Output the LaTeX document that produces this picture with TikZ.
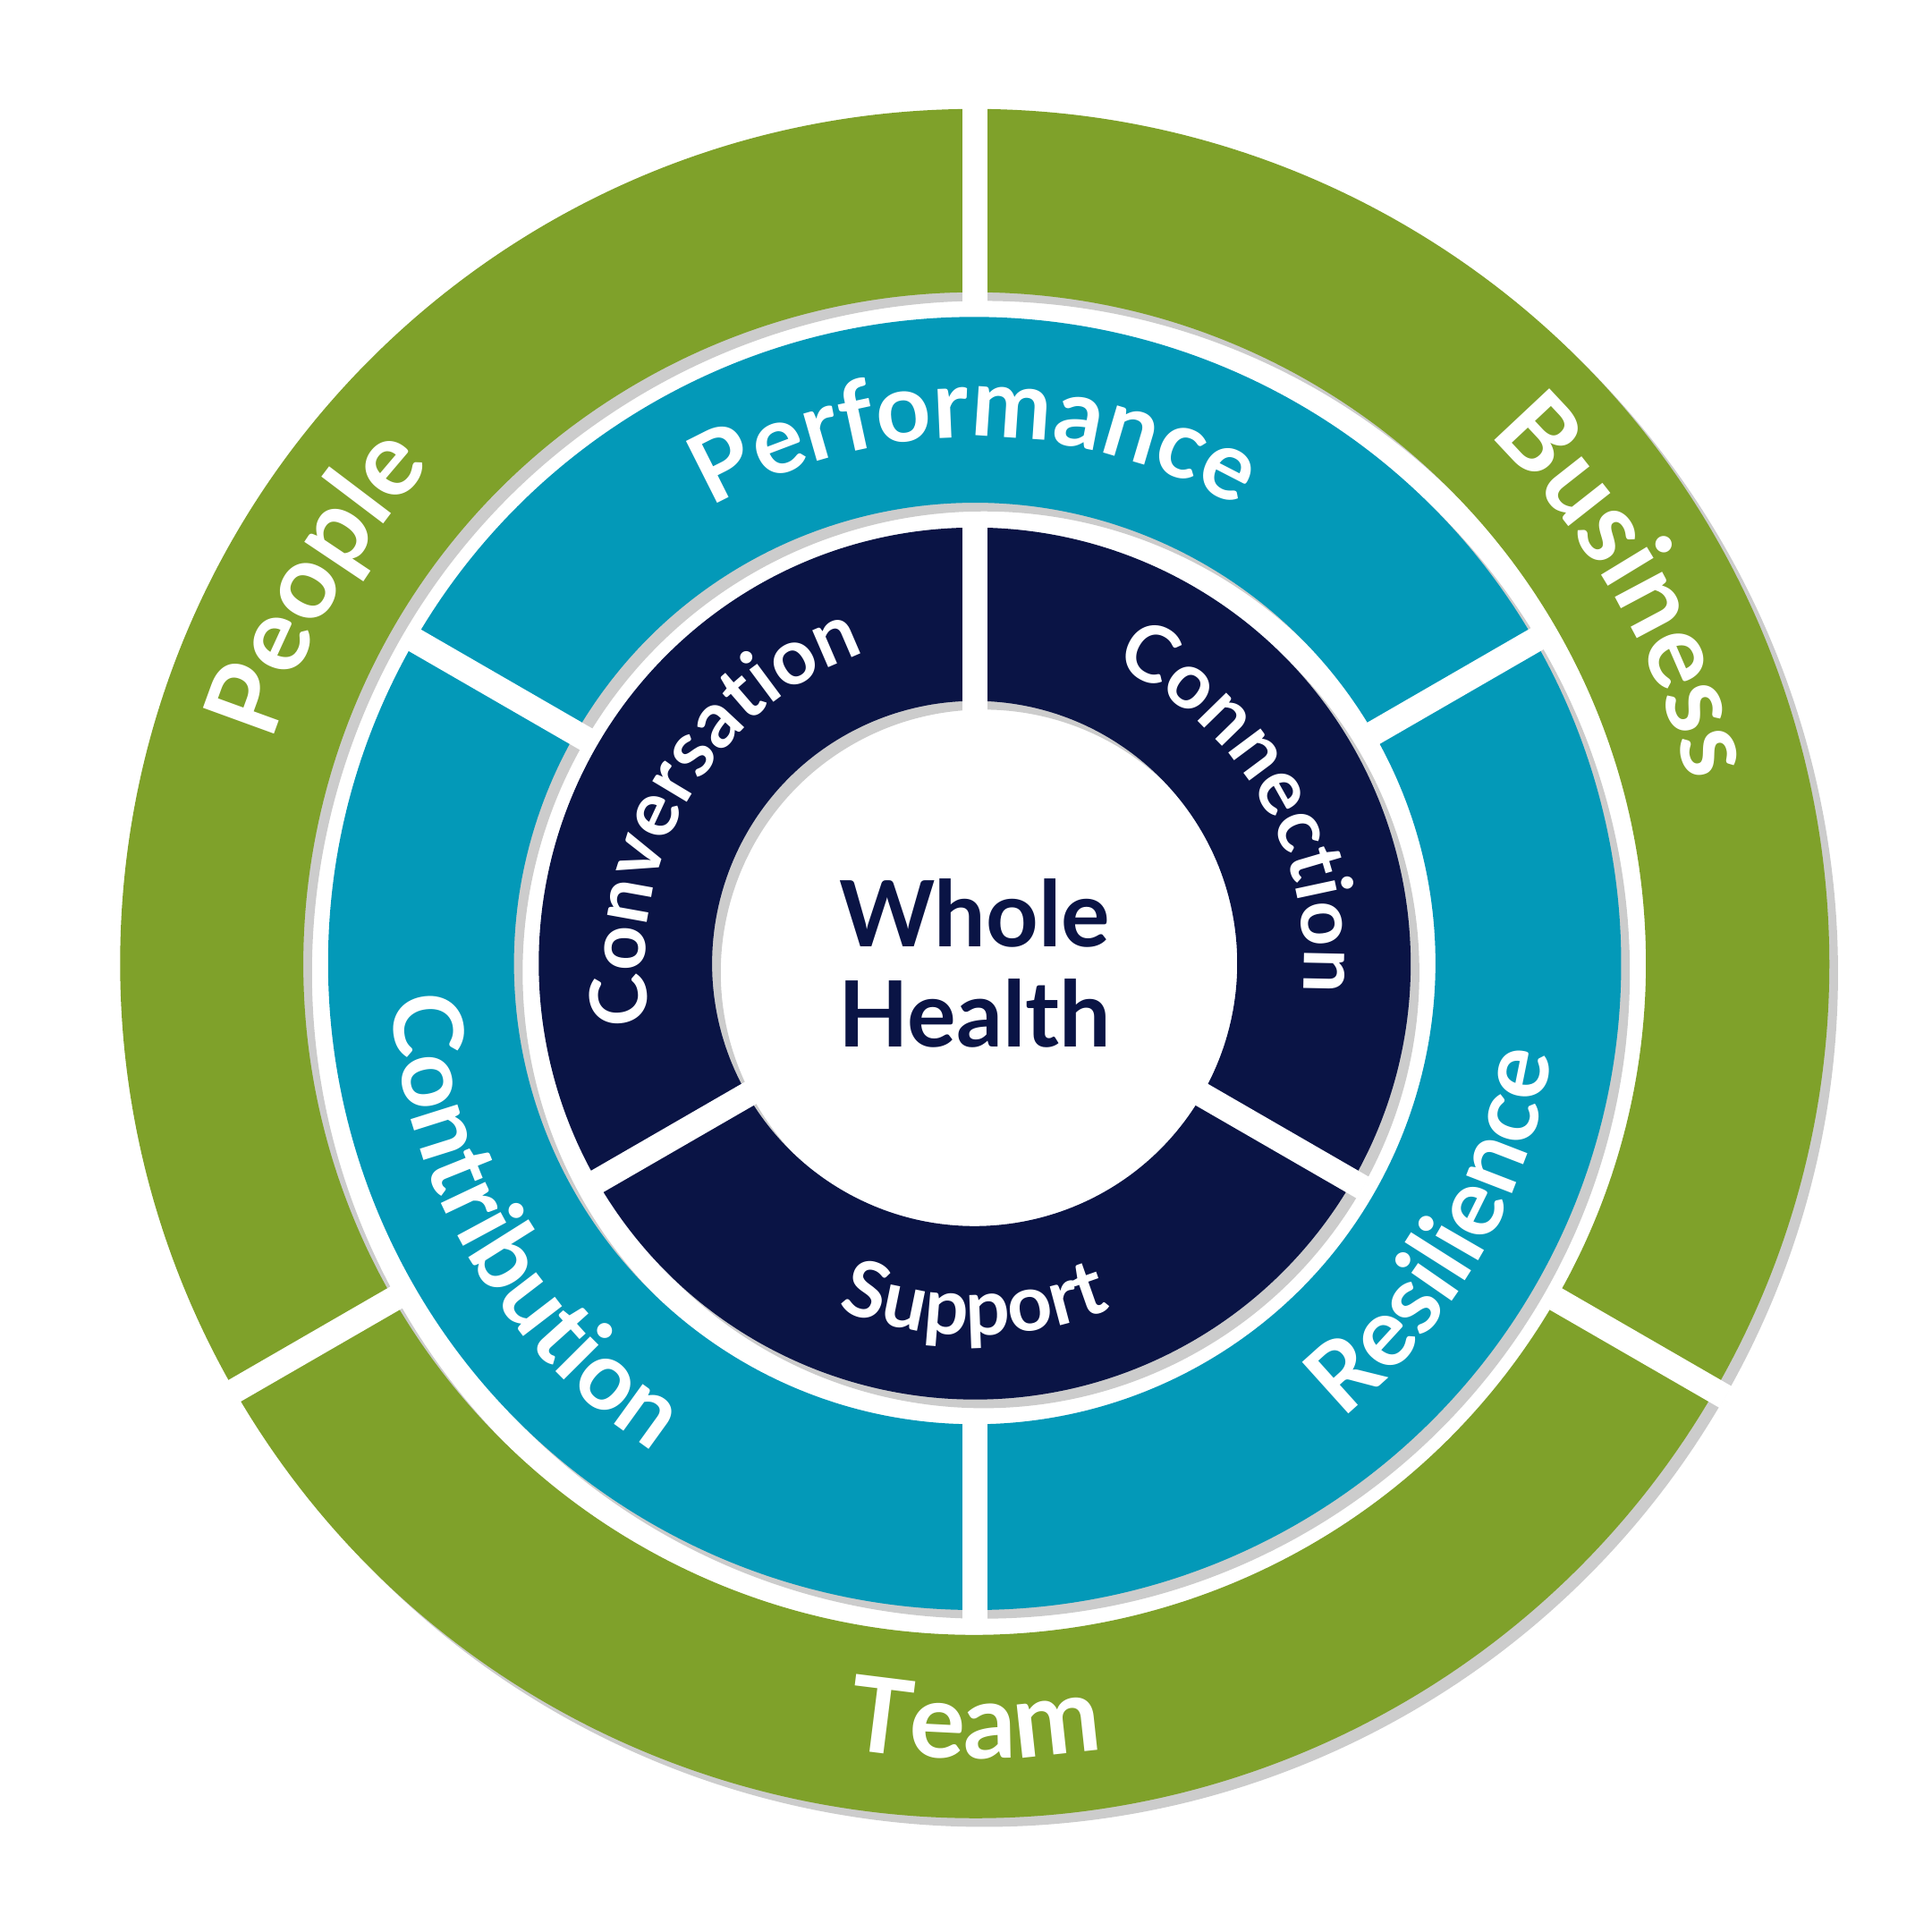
\documentclass[tikz,border=0pt]{standalone}
\usepackage{fontspec}
\setmainfont{Lato}
\usetikzlibrary{decorations.text, shadows}

\definecolor{wgreen}{HTML}{7FA12A}
\definecolor{wblue}{HTML}{0399B8}
\definecolor{wnavy}{HTML}{0A1445}

\tikzset{
  ring/.style={drop shadow={shadow xshift=0.07cm, shadow yshift=-0.07cm, opacity=0.4}},
  gap/.style={white, line width=0.2cm},
}
% annular sector: colour, start, end, inner radius, outer radius
\newcommand{\sector}[5]{\fill[#1, ring] (#2:#5) arc[start angle=#2, end angle=#3, radius=#5]
  -- (#3:#4) arc[start angle=#3, end angle=#2, radius=#4] -- cycle;}
% text on arc: start, end, radius, size, text
\newcommand{\arclabel}[5]{\path[decorate, decoration={text along path, text align=center,
  text color=white, text={|\fontsize{#4}{#4}\selectfont\bfseries|#5}}]
  (#1:#3) arc[start angle=#1, end angle=#2, radius=#3];}

\begin{document}
\begin{tikzpicture}
  \useasboundingbox (-7.87,-7.82) rectangle (7.73,7.78);

  % outer ring
  \sector{wgreen}{90}{210}{5.42}{6.9}
  \sector{wgreen}{-30}{90}{5.42}{6.9}
  \sector{wgreen}{210}{330}{5.42}{6.9}
  \foreach \a in {90,210,330} \draw[gap] (\a:5.3) -- (\a:7.0);

  % middle ring
  \sector{wblue}{30}{150}{3.72}{5.22}
  \sector{wblue}{150}{270}{3.72}{5.22}
  \sector{wblue}{270}{390}{3.72}{5.22}
  \foreach \a in {30,150,270} \draw[gap] (\a:3.6) -- (\a:5.32);

  % inner ring
  \sector{wnavy}{90}{210}{2.12}{3.52}
  \sector{wnavy}{-30}{90}{2.12}{3.52}
  \sector{wnavy}{210}{330}{2.12}{3.52}
  \foreach \a in {90,210,330} \draw[gap] (\a:2.0) -- (\a:3.62);

  % labels
  \arclabel{210}{90}{5.95}{24pt}{People}
  \arclabel{90}{-30}{5.95}{24pt}{Business}
  \arclabel{210}{330}{6.42}{24pt}{Team}
  \arclabel{150}{30}{4.25}{22pt}{Performance}
  \arclabel{150}{270}{4.72}{22pt}{Contribution}
  \arclabel{270}{390}{4.72}{22pt}{Resilience}
  \arclabel{210}{90}{2.66}{18pt}{Conversation}
  \arclabel{90}{-30}{2.66}{18pt}{Connection}
  \arclabel{210}{330}{3.0}{18pt}{Support}

  \node[text=wnavy, font=\fontsize{21pt}{23pt}\selectfont\bfseries, align=center] (core) at (0,0) {Whole\\Health};
\end{tikzpicture}
\end{document}
